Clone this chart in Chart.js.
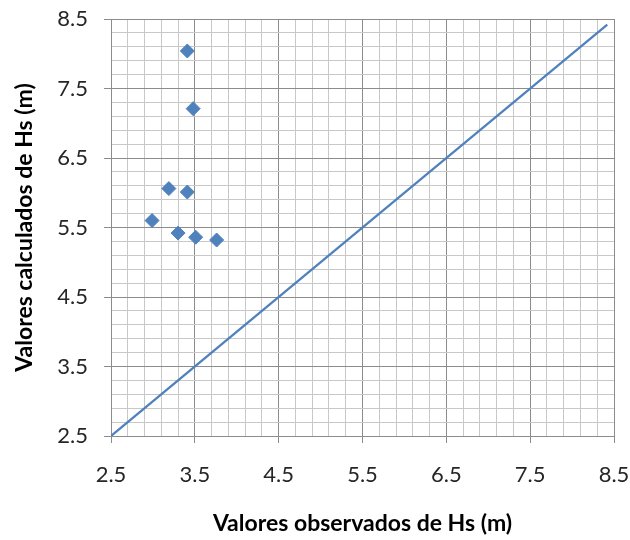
<!DOCTYPE html>
<html>
<head>
<meta charset="utf-8">
<script src="https://cdn.jsdelivr.net/npm/chart.js@4.4.1/dist/chart.umd.min.js"></script>
<style>
  html, body { margin: 0; padding: 0; background: #ffffff; }
  #wrap { width: 630px; height: 540px; }
</style>
</head>
<body>
<div id="wrap"><canvas id="c" width="630" height="540"></canvas></div>
<script>
// Observed vs. calculated significant wave height (m)
const observedHs   = [3.41, 3.48, 3.19, 3.41, 2.99, 3.30, 3.51, 3.76];
const calculatedHs = [8.04, 7.21, 6.06, 6.01, 5.60, 5.42, 5.36, 5.32];

// 1:1 reference line
const refLineX = [2.5, 8.42];
const refLineY = [2.5, 8.42];

// Axis range and tick labels
const axisMin = 2.5;
const axisMax = 8.5;
const majorTicks = [2.5, 3.5, 4.5, 5.5, 6.5, 7.5, 8.5];
const minorStep = 0.2;

const xTitle = 'Valores observados de Hs (m)';
const yTitle = 'Valores calculados de Hs (m)';

const blue = '#4F81BD';
const fontFamily = 'Lato, "Open Sans", sans-serif';

function allTickValues() {
  const vals = [];
  const n = Math.round((axisMax - axisMin) / minorStep);
  for (let i = 0; i <= n; i++) vals.push(+(axisMin + i * minorStep).toFixed(4));
  return vals;
}
function isMajor(v) {
  return majorTicks.some(m => Math.abs(m - v) < 1e-6);
}

function gridOpts() {
  return {
    color: ctx => isMajor(ctx.tick.value) ? '#8c8c8c' : '#c8c8c8',
    lineWidth: 1,
    drawTicks: true,
    tickLength: 7,
    tickColor: ctx => isMajor(ctx.tick.value) ? '#8c8c8c' : 'rgba(0,0,0,0)'
  };
}

const points = observedHs.map((x, i) => ({ x: x, y: calculatedHs[i] }));
const linePts = refLineX.map((x, i) => ({ x: x, y: refLineY[i] }));

new Chart(document.getElementById('c'), {
  type: 'scatter',
  data: {
    datasets: [
      {
        label: 'Hs',
        data: points,
        pointStyle: 'rectRot',
        pointRadius: 7,
        pointHoverRadius: 7,
        backgroundColor: blue,
        borderColor: blue,
        borderWidth: 1,
        showLine: false,
        order: 1
      },
      {
        label: '1:1',
        data: linePts,
        showLine: true,
        borderColor: blue,
        borderWidth: 2.25,
        pointRadius: 0,
        fill: false,
        order: 2
      }
    ]
  },
  options: {
    responsive: false,
    animation: false,
    layout: { padding: { left: 0, top: 19, right: 16, bottom: 0 } },
    plugins: {
      legend: { display: false },
      tooltip: { enabled: false }
    },
    scales: {
      x: {
        type: 'linear',
        min: axisMin,
        max: axisMax,
        afterBuildTicks: axis => { axis.ticks = allTickValues().map(v => ({ value: v })); },
        afterFit: axis => {
          axis.height = 104;
          axis.paddingLeft = 0;
          axis.paddingRight = 0;
        },
        grid: gridOpts(),
        border: { display: true, color: '#8c8c8c', width: 1 },
        ticks: {
          autoSkip: false,
          maxRotation: 0,
          padding: 19,
          color: '#262626',
          font: { family: fontFamily, size: 22 },
          callback: v => isMajor(v) ? v.toFixed(1) : ''
        },
        title: {
          display: true,
          text: xTitle,
          color: '#000000',
          font: { family: fontFamily, size: 23, weight: 'bold' },
          padding: { top: 0, bottom: 3 }
        }
      },
      y: {
        type: 'linear',
        min: axisMin,
        max: axisMax,
        afterBuildTicks: axis => { axis.ticks = allTickValues().map(v => ({ value: v })); },
        afterFit: axis => {
          axis.width = 111;
          axis.paddingTop = 0;
          axis.paddingBottom = 0;
        },
        grid: gridOpts(),
        border: { display: true, color: '#8c8c8c', width: 1 },
        ticks: {
          autoSkip: false,
          padding: 16,
          color: '#262626',
          font: { family: fontFamily, size: 22 },
          callback: v => isMajor(v) ? v.toFixed(1) : ''
        },
        title: {
          display: true,
          text: yTitle,
          color: '#000000',
          font: { family: fontFamily, size: 23, weight: 'bold' },
          padding: { top: 11, bottom: 0 }
        }
      }
    }
  }
});
</script>
</body>
</html>
